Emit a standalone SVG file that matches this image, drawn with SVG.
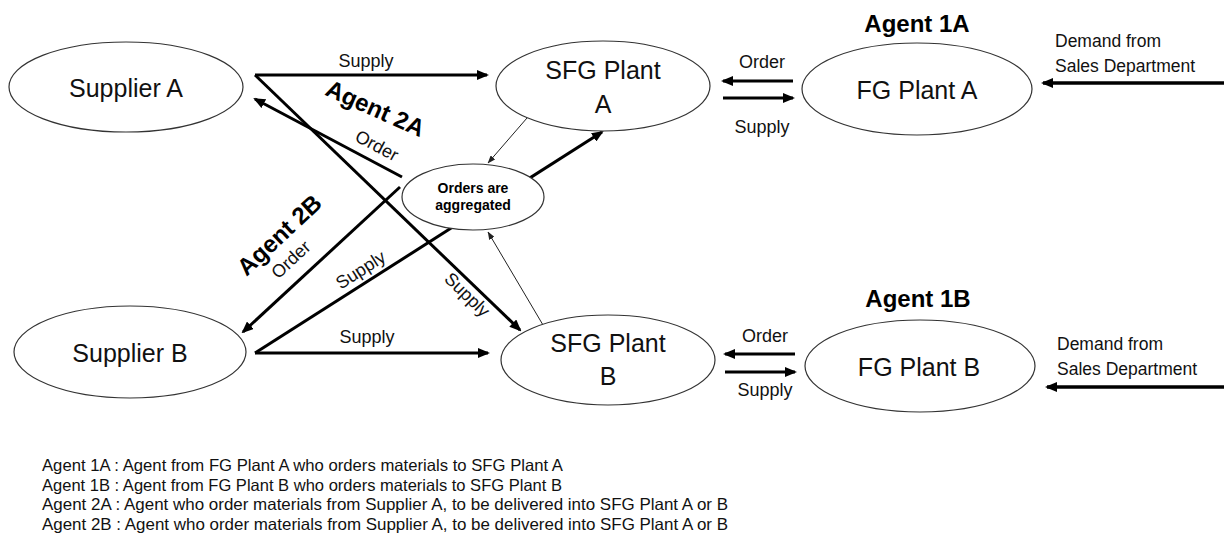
<svg xmlns="http://www.w3.org/2000/svg" width="1224" height="545" viewBox="0 0 1224 545">
<style>
.node ellipse{fill:#fff;stroke:#333;stroke-width:1.2}
.lbl{font-family:"Liberation Sans",Arial,sans-serif;font-size:25px;fill:#111;text-anchor:middle}
.agent{font-family:"Liberation Sans",Arial,sans-serif;font-size:24px;font-weight:bold;fill:#000;text-anchor:middle}
.small{font-family:"Liberation Sans",Arial,sans-serif;font-size:18px;fill:#111;text-anchor:middle}
.dem{font-family:"Liberation Sans",Arial,sans-serif;font-size:17.5px;fill:#111}
.agg{font-family:"Liberation Sans",Arial,sans-serif;font-size:14px;font-weight:bold;fill:#000;text-anchor:middle}
.leg{font-family:"Liberation Sans",Arial,sans-serif;font-size:16.5px;fill:#111}
.thick{stroke:#000;stroke-width:3;fill:none;marker-end:url(#ah)}
.thin{stroke:#222;stroke-width:1;fill:none;marker-end:url(#ahs)}
</style>
<defs>
<marker id="ah" markerUnits="userSpaceOnUse" viewBox="0 0 12 10" markerWidth="12" markerHeight="10" refX="10" refY="5" orient="auto"><path d="M0,0 L12,5 L0,10 z" fill="#000"/></marker>
<marker id="ahs" markerUnits="userSpaceOnUse" viewBox="0 0 8 6" markerWidth="8" markerHeight="6" refX="7.5" refY="3" orient="auto"><path d="M0,0 L8,3 L0,6 z" fill="#222"/></marker>
</defs>
<rect width="1224" height="545" fill="#fff"/>

<g id="connectors">
<line class="thick" x1="255" y1="75" x2="487" y2="75"/>
<line class="thick" x1="255" y1="75" x2="520" y2="330"/>
<line class="thick" x1="402" y1="177" x2="255" y2="99"/>
<line class="thick" x1="400" y1="187" x2="243" y2="332"/>
<line class="thick" x1="255" y1="353" x2="602" y2="132"/>
<line class="thick" x1="255" y1="353" x2="488" y2="353"/>
<line class="thin" x1="527" y1="118" x2="488" y2="163"/>
<line class="thin" x1="543" y1="325" x2="488" y2="232"/>
<line class="thick" x1="793" y1="81" x2="723" y2="81"/>
<line class="thick" x1="723" y1="98" x2="793" y2="98"/>
<line class="thick" x1="795" y1="354" x2="725" y2="354"/>
<line class="thick" x1="725" y1="372" x2="795" y2="372"/>
<line class="thick" x1="1224" y1="83" x2="1043" y2="83" style="stroke-width:3.5"/>
<line class="thick" x1="1224" y1="387" x2="1047" y2="387" style="stroke-width:3.5"/>
<text class="small" x="366" y="67">Supply</text>
<text class="small" x="367" y="343">Supply</text>
<text class="small" x="762" y="68">Order</text>
<text class="small" x="762" y="133">Supply</text>
<text class="small" x="765" y="342">Order</text>
<text class="small" x="765" y="396">Supply</text>
<text class="small" transform="translate(374,151) rotate(28)">Order</text>
<text class="small" transform="translate(295,264) rotate(-43)">Order</text>
<text class="small" transform="translate(364,275) rotate(-32.5)">Supply</text>
<text class="small" transform="translate(463,299) rotate(44)">Supply</text>
<text class="agent" transform="translate(372,116) rotate(24)">Agent 2A</text>
<text class="agent" transform="translate(285,241) rotate(-43)">Agent 2B</text>
</g>

<g id="supplierA" class="node"><ellipse cx="126" cy="87" rx="117" ry="45"/><text class="lbl" x="126" y="97">Supplier A</text></g>
<g id="supplierB" class="node"><ellipse cx="130" cy="352" rx="116" ry="46"/><text class="lbl" x="130" y="362">Supplier B</text></g>
<g id="sfgA" class="node"><ellipse cx="603" cy="86" rx="107" ry="45"/><text class="lbl" x="603" y="79">SFG Plant</text><text class="lbl" x="603" y="113">A</text></g>
<g id="sfgB" class="node"><ellipse cx="608" cy="360" rx="107" ry="45"/><text class="lbl" x="608" y="352">SFG Plant</text><text class="lbl" x="608" y="385">B</text></g>
<g id="agg" class="node"><ellipse cx="473" cy="197" rx="71" ry="33"/><text class="agg" x="473" y="193">Orders are</text><text class="agg" x="473" y="210">aggregated</text></g>
<g id="fgA" class="node"><ellipse cx="917" cy="89" rx="115" ry="46"/><text class="lbl" x="917" y="99">FG Plant A</text></g>
<g id="fgB" class="node"><ellipse cx="920" cy="366" rx="115" ry="46"/><text class="lbl" x="919" y="376">FG Plant B</text></g>

<g id="labels">
<text class="agent" x="917" y="32">Agent 1A</text>
<text class="agent" x="918" y="307">Agent 1B</text>
<text class="dem" x="1055" y="47">Demand from</text>
<text class="dem" x="1055" y="72">Sales Department</text>
<text class="dem" x="1057" y="350">Demand from</text>
<text class="dem" x="1057" y="375">Sales Department</text>
</g>

<g id="legend">
<text class="leg" x="42" y="471" textLength="521" lengthAdjust="spacingAndGlyphs">Agent 1A : Agent from FG Plant A who orders materials to SFG Plant A</text>
<text class="leg" x="42" y="491" textLength="520" lengthAdjust="spacingAndGlyphs">Agent 1B : Agent from FG Plant B who orders materials to SFG Plant B</text>
<text class="leg" x="42" y="510" textLength="686" lengthAdjust="spacingAndGlyphs">Agent 2A : Agent who order materials from Supplier A, to be delivered into SFG Plant A or B</text>
<text class="leg" x="42" y="530" textLength="686" lengthAdjust="spacingAndGlyphs">Agent 2B : Agent who order materials from Supplier A, to be delivered into SFG Plant A or B</text>
</g>
</svg>
